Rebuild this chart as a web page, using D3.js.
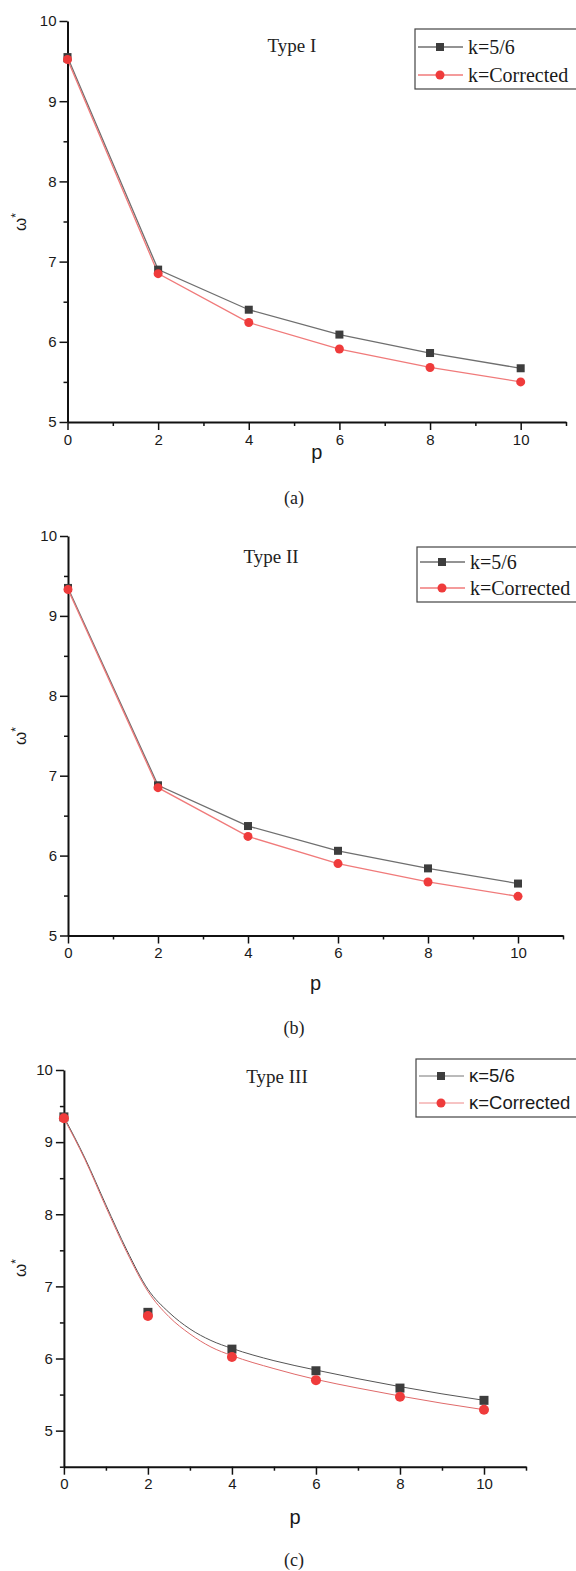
<!DOCTYPE html>
<html>
<head>
<meta charset="utf-8">
<script src="https://cdn.jsdelivr.net/npm/d3@7"></script>
<style>
  html, body { margin: 0; padding: 0; background: #fff; }
  svg { display: block; }
</style>
</head>
<body>
<script>
// ---------------- DATA ----------------
const pValues = [0, 2, 4, 6, 8, 10];
const xTicksMajor = [0, 2, 4, 6, 8, 10];
const xTicksMinor = [1, 3, 5, 7, 9, 11];
const yTicksMajor = [5, 6, 7, 8, 9, 10];

const typeI_k56  = [9.55, 6.90, 6.40, 6.09, 5.86, 5.67];
const typeI_corr = [9.52, 6.85, 6.24, 5.91, 5.68, 5.50];

const typeII_k56  = [9.35, 6.88, 6.37, 6.06, 5.84, 5.65];
const typeII_corr = [9.33, 6.85, 6.24, 5.90, 5.67, 5.49];

const typeIII_k56  = [9.35, 6.64, 6.13, 5.83, 5.59, 5.42];
const typeIII_corr = [9.33, 6.59, 6.02, 5.70, 5.47, 5.29];

// fitted curves of panel (c)
const fitP = [0, 0.5, 1, 1.5, 2, 2.5, 3, 3.5, 4, 5, 6, 7, 8, 9, 10];
const typeIII_fit_k56  = [9.35, 8.78, 8.13, 7.50, 6.96, 6.64, 6.41, 6.25, 6.14, 5.97, 5.84, 5.72, 5.61, 5.51, 5.42];
const typeIII_fit_corr = [9.33, 8.76, 8.10, 7.47, 6.93, 6.58, 6.34, 6.16, 6.04, 5.86, 5.71, 5.59, 5.48, 5.38, 5.29];

const legendAB = ["k=5/6", "k=Corrected"];
const legendC  = ["\u03ba=5/6", "\u03ba=Corrected"];
const titles   = ["Type I", "Type II", "Type III"];
const captions = ["(a)", "(b)", "(c)"];

// ---------------- LAYOUT ----------------
const W = 576, H = 1571;
const GRAY = "#3d3d3d", GRAY_LINE = "#6f6f6f", RED = "#ef3b3b", RED_LINE = "#f07a7a";
const SERIF = "'Liberation Serif', 'Times New Roman', serif";
const SANS = "'Liberation Sans', Arial, sans-serif";

const panels = [
  { title: titles[0], caption: captions[0], k56: typeI_k56, corr: typeI_corr, fit: false,
    x0: 67.5, x1: 566, yBottom: 422, yTop: 21, yMin: 5, yMax: 10,
    titleX: 292, titleY: 52, legX: 415, legY: 29, legH: 60, r1: 47, r2: 75,
    legLabels: legendAB, legFont: SERIF, legSize: 20, pY: 459, capY: 504, yLabY: 222, yMinor: [5.5,6.5,7.5,8.5,9.5] },
  { title: titles[1], caption: captions[1], k56: typeII_k56, corr: typeII_corr, fit: false,
    x0: 68, x1: 563, yBottom: 935.5, yTop: 536, yMin: 5, yMax: 10,
    titleX: 271, titleY: 563, legX: 417, legY: 547, legH: 55, r1: 562, r2: 588,
    legLabels: legendAB, legFont: SERIF, legSize: 20, pY: 990, capY: 1034, yLabY: 736, yMinor: [5.5,6.5,7.5,8.5,9.5] },
  { title: titles[2], caption: captions[2], k56: typeIII_k56, corr: typeIII_corr, fit: true,
    x0: 63.9, x1: 526, yBottom: 1466.7, yTop: 1070, yMin: 4.5, yMax: 10,
    titleX: 277, titleY: 1083, legX: 416, legY: 1059, legH: 58, r1: 1076, r2: 1103,
    legLabels: legendC, legFont: SANS, legSize: 18.5, pY: 1524, capY: 1566, yLabY: 1268, yMinor: [4.5,5.5,6.5,7.5,8.5,9.5] }
];

const svg = d3.select("body").append("svg").attr("width", W).attr("height", H)
  .style("background", "#fff");

panels.forEach((P, i) => {
  const g = svg.append("g");
  const x = d3.scaleLinear().domain([0, 11]).range([P.x0, P.x1]);
  const y = d3.scaleLinear().domain([P.yMin, P.yMax]).range([P.yBottom, P.yTop]);
  const sz = P.fit ? 9 : 8, rr = P.fit ? 5 : 4.5;

  // axes - minor ticks
  g.append("g").attr("transform", `translate(0,${P.yBottom})`)
    .call(d3.axisBottom(x).tickValues(xTicksMinor).tickSize(4).tickSizeOuter(0).tickFormat(""))
    .call(a => a.select(".domain").remove())
    .selectAll("line").attr("stroke", "#111").attr("stroke-width", 1.5);
  g.append("g").attr("transform", `translate(${P.x0},0)`)
    .call(d3.axisLeft(y).tickValues(P.yMinor).tickSize(4).tickSizeOuter(0).tickFormat(""))
    .call(a => a.select(".domain").remove())
    .selectAll("line").attr("stroke", "#111").attr("stroke-width", 1.5);

  // axes - major ticks
  const xa = g.append("g").attr("transform", `translate(0,${P.yBottom})`)
    .call(d3.axisBottom(x).tickValues(xTicksMajor).tickSize(8).tickPadding(4).tickSizeOuter(0).tickFormat(d3.format("d")));
  const ya = g.append("g").attr("transform", `translate(${P.x0},0)`)
    .call(d3.axisLeft(y).tickValues(yTicksMajor).tickSize(8).tickPadding(3).tickSizeOuter(0).tickFormat(d3.format("d")));
  [xa, ya].forEach(a => {
    a.select(".domain").attr("stroke", "#111").attr("stroke-width", 2);
    a.selectAll(".tick line").attr("stroke", "#111").attr("stroke-width", 1.5);
    a.selectAll(".tick text").attr("fill", "#1a1a1a").style("font-family", SANS).style("font-size", "15px");
  });

  // series
  if (!P.fit) {
    const line = d3.line().x((d, j) => x(pValues[j])).y(d => y(d));
    g.append("path").datum(P.k56).attr("d", line).attr("fill", "none")
      .attr("stroke", GRAY_LINE).attr("stroke-width", 1.3);
    g.append("path").datum(P.corr).attr("d", line).attr("fill", "none")
      .attr("stroke", RED_LINE).attr("stroke-width", 1.3);
  } else {
    const fl = d3.line().curve(d3.curveMonotoneX).x((d, j) => x(fitP[j])).y(d => y(d));
    g.append("path").datum(typeIII_fit_k56).attr("d", fl).attr("fill", "none")
      .attr("stroke", "#555").attr("stroke-width", 1);
    g.append("path").datum(typeIII_fit_corr).attr("d", fl).attr("fill", "none")
      .attr("stroke", "#e06a6a").attr("stroke-width", 1);
  }
  g.selectAll(".sq").data(P.k56).enter().append("rect")
    .attr("x", (d, j) => x(pValues[j]) - sz / 2).attr("y", d => y(d) - sz / 2)
    .attr("width", sz).attr("height", sz).attr("fill", GRAY);
  g.selectAll(".ci").data(P.corr).enter().append("circle")
    .attr("cx", (d, j) => x(pValues[j])).attr("cy", d => y(d)).attr("r", rr).attr("fill", RED);

  // title
  g.append("text").attr("x", P.titleX).attr("y", P.titleY).attr("text-anchor", "middle")
    .style("font-family", SERIF).style("font-size", "19px").attr("fill", "#222").text(P.title);

  // legend
  g.append("rect").attr("x", P.legX).attr("y", P.legY).attr("width", 200).attr("height", P.legH)
    .attr("fill", "#fff").attr("stroke", "#444").attr("stroke-width", 1.2);
  [[P.r1, GRAY_LINE, "sq"], [P.r2, RED_LINE, "ci"]].forEach(([ry, col, kind], j) => {
    g.append("line").attr("x1", P.legX + 3).attr("x2", P.legX + 48).attr("y1", ry).attr("y2", ry)
      .attr("stroke", P.fit ? (j ? "#e88" : "#777") : col).attr("stroke-width", P.fit ? 1 : 1.3);
    if (kind === "sq") g.append("rect").attr("x", P.legX + 25 - 4).attr("y", ry - 4)
      .attr("width", 8).attr("height", 8).attr("fill", GRAY);
    else g.append("circle").attr("cx", P.legX + 25).attr("cy", ry).attr("r", 4.5).attr("fill", RED);
    g.append("text").attr("x", P.legX + 53).attr("y", ry).attr("dy", "0.35em")
      .style("font-family", P.legFont).style("font-size", P.legSize + "px").attr("fill", "#1a1a1a")
      .text(P.legLabels[j]);
  });

  // axis labels
  g.append("text").attr("x", (P.x0 + P.x1) / 2).attr("y", P.pY).attr("text-anchor", "middle")
    .style("font-family", SANS).style("font-size", "20px").attr("fill", "#1a1a1a").text("p");
  const yl = g.append("text").attr("transform", `translate(26,${P.yLabY}) rotate(-90)`)
    .attr("text-anchor", "middle").style("font-family", SANS).style("font-size", "17px").attr("fill", "#1a1a1a");
  yl.append("tspan").text("\u03c9");
  yl.append("tspan").attr("dy", "-0.5em").style("font-size", "12px").text("*");

  // caption
  g.append("text").attr("x", 294).attr("y", P.capY).attr("text-anchor", "middle")
    .style("font-family", SERIF).style("font-size", "18px").attr("fill", "#222").text(P.caption);
});
</script>
</body>
</html>
